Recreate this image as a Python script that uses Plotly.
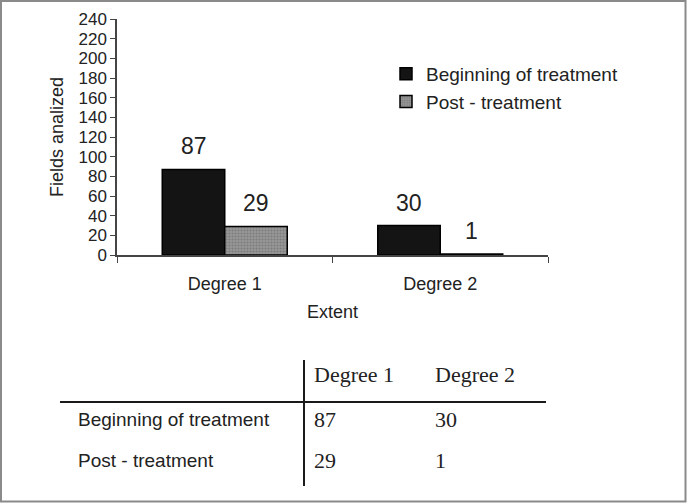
import plotly.graph_objects as go

# ---- data ----
categories = ["Degree 1", "Degree 2"]
beginning = [87, 30]
post = [29, 1]
series_names = ["Beginning of treatment", "Post - treatment"]
y_ticks = list(range(0, 241, 20))

# ---- layout constants (pixels) ----
W, H = 687, 503
ML, MR, MT, MB = 117, 139, 19, 248
PW = W - ML - MR
PH = H - MT - MB
BOTTOM = H - MB


def px_x(px):
    return (px - ML) / PW


def py_y(py):
    return (BOTTOM - py) / PH


SANS = "Liberation Sans, Arial, sans-serif"
SERIF = "Liberation Serif, Times New Roman, serif"
TXT = "#222222"

fig = go.Figure()
fig.add_trace(go.Bar(
    x=categories, y=beginning, name=series_names[0], legendgroup="a",
    marker=dict(color="#141414", line=dict(color="#000000", width=1.5)),
))
fig.add_trace(go.Bar(
    x=categories, y=post, name=series_names[1], legendgroup="b",
    marker=dict(color="#8e8e8e", line=dict(color="#000000", width=1.5),
                pattern=dict(shape=".", fgcolor="#5e5e5e", bgcolor="#989898",
                             size=3, solidity=0.4, fillmode="overlay")),
))

# value labels above bars
bar_half_px = 31
for vals, sign in ((beginning, -1), (post, 1)):
    for c, v in zip(categories, vals):
        fig.add_annotation(x=c, y=v, xref="x", yref="y", text=str(v),
                           showarrow=False, xshift=sign * bar_half_px, yshift=23,
                           yanchor="middle",
                           font=dict(family=SANS, size=23, color=TXT))

# ---- table below the chart ----
shapes = []
shapes.append(dict(type="line", xref="paper", yref="paper",
                   x0=px_x(60), x1=px_x(546), y0=py_y(402), y1=py_y(402),
                   line=dict(color="#1a1a1a", width=2)))
shapes.append(dict(type="line", xref="paper", yref="paper",
                   x0=px_x(304), x1=px_x(304), y0=py_y(360), y1=py_y(486),
                   line=dict(color="#1a1a1a", width=2)))
# outer frame
shapes.append(dict(type="rect", xref="paper", yref="paper",
                   x0=px_x(1), x1=px_x(685.5), y0=py_y(1), y1=py_y(501.5),
                   line=dict(color="#8a8a8a", width=2), fillcolor="rgba(0,0,0,0)",
                   layer="below"))

col_left = [312, 433]
row_y = [419, 460]
header_y = 374
for cx, c in zip(col_left, categories):
    fig.add_annotation(x=px_x(cx), y=py_y(header_y), xref="paper", yref="paper",
                       text=c, showarrow=False, xanchor="left", yanchor="middle",
                       font=dict(family=SERIF, size=22, color=TXT))
for ry, name, vals in zip(row_y, series_names, (beginning, post)):
    fig.add_annotation(x=px_x(76), y=py_y(ry), xref="paper", yref="paper",
                       text=name, showarrow=False, xanchor="left", yanchor="middle",
                       font=dict(family=SANS, size=19, color=TXT))
    for cx, v in zip(col_left, vals):
        fig.add_annotation(x=px_x(cx), y=py_y(ry), xref="paper", yref="paper",
                           text=str(v), showarrow=False, xanchor="left", yanchor="middle",
                           font=dict(family=SERIF, size=22, color=TXT))

fig.update_layout(
    width=W, height=H,
    margin=dict(l=ML, r=MR, t=MT, b=MB, autoexpand=False),
    paper_bgcolor="white", plot_bgcolor="white",
    barmode="group", bargap=0.42, bargroupgap=0,
    font=dict(family=SANS, color=TXT),
    shapes=shapes,
    showlegend=True,
    legend=dict(x=px_x(386), y=py_y(55), xanchor="left", yanchor="top",
                font=dict(family=SANS, size=19, color=TXT),
                traceorder="grouped", tracegroupgap=0,
                bgcolor="rgba(0,0,0,0)", itemclick=False),
    xaxis=dict(
        type="category", showline=True, linecolor="#444444", linewidth=1.5,
        ticks="outside", tickson="boundaries", ticklen=6, tickcolor="#444444",
        ticklabelstandoff=12,
        tickfont=dict(family=SANS, size=18, color=TXT),
        title=dict(text="Extent", standoff=12, font=dict(family=SANS, size=18, color=TXT)),
        showgrid=False, zeroline=False, fixedrange=True,
    ),
    yaxis=dict(
        range=[0, 240], tickvals=y_ticks, showline=True, linecolor="#444444", linewidth=1.5,
        ticks="outside", ticklen=5, tickcolor="#444444",
        tickfont=dict(family=SANS, size=17, color=TXT),
        title=dict(text="Fields analized", standoff=10,
                   font=dict(family=SANS, size=18, color=TXT)),
        showgrid=False, zeroline=False, fixedrange=True,
    ),
)

fig.write_html("out.html", config={"displayModeBar": False},
               post_script="document.body.style.margin='0';document.body.style.padding='0';")
